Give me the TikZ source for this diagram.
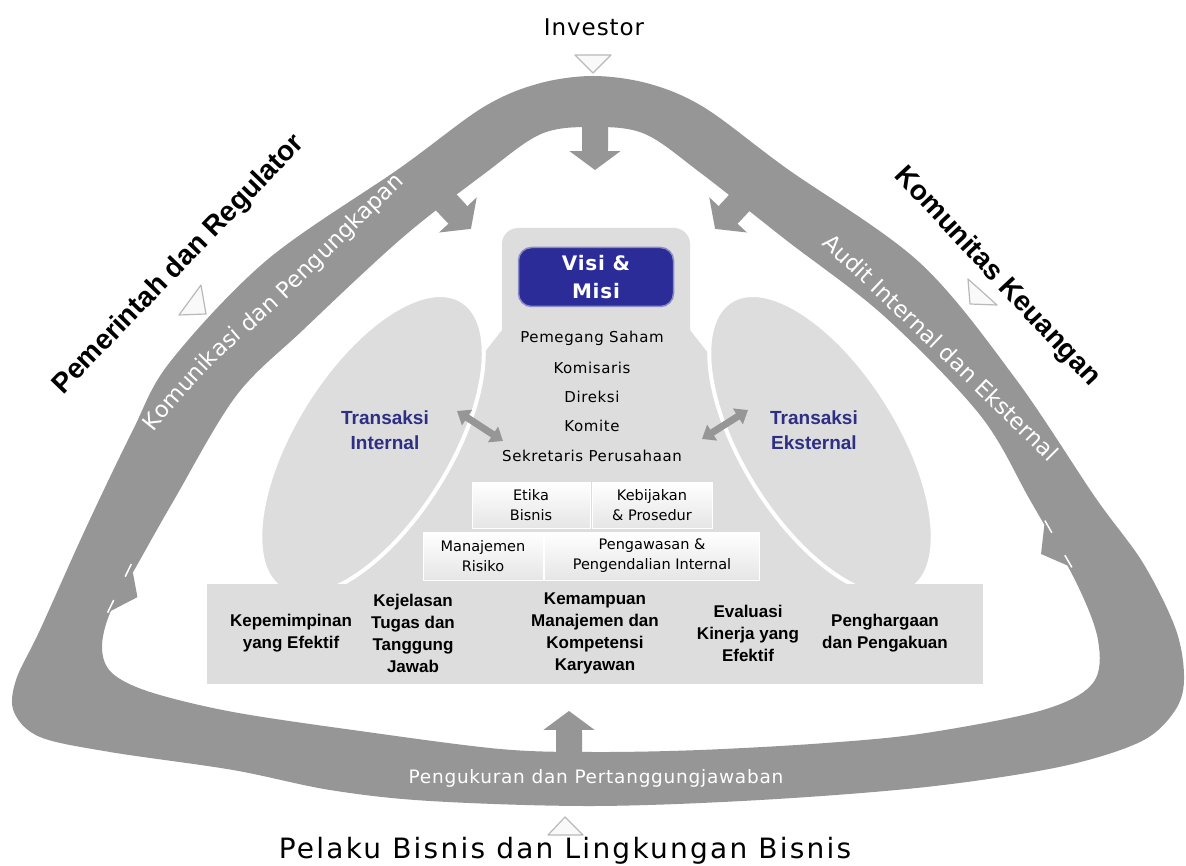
\documentclass[tikz,border=0pt]{standalone}
\usepackage{fontspec}
\setmainfont{DejaVu Sans}
\newfontfamily\arial{Liberation Sans}
\newfontfamily\wide{DejaVu Sans}[LetterSpace=8]
\newfontfamily\ringtext{DejaVu Sans}[LetterSpace=4]
\newfontfamily\listtext{DejaVu Sans}[LetterSpace=4]
\usetikzlibrary{positioning,arrows.meta,calc,decorations.text}

\definecolor{ringgray}{RGB}{150,150,150}
\definecolor{panel}{RGB}{221,221,221}
\definecolor{visiblue}{RGB}{44,44,152}
\definecolor{navy}{RGB}{46,46,132}

% arrow leaving the ring: base point, direction, length
\newcommand\ringarrow[3]{%
  \begin{scope}[shift={#1}, rotate=#2]
    \fill[ringgray] (0,13) -- (#3-20,13) -- (#3-20,27) -- (#3,0) -- (#3-20,-27) -- (#3-20,-13) -- (0,-13) -- cycle;
    \draw[white, line width=1.5pt] (#3-20,13) -- (#3-20,27);
    \draw[white, line width=1.5pt] (#3-20,-13) -- (#3-20,-27);
  \end{scope}}

\begin{document}
\begin{tikzpicture}[x=1pt,y=-1pt,
  txt/.style={inner sep=0pt, align=center},
  party/.style={txt, font=\arial\bfseries\fontsize{28}{32}\selectfont},
  bandtext/.style={decorate, decoration={text along path, text align=center,
    text={|\fontsize{22.5}{26}\selectfont\color{white}|#1}}},
  item/.style={txt, font=\listtext\fontsize{15}{18}\selectfont},
  pillar/.style={txt, font=\arial\bfseries\fontsize{17}{22}\selectfont},
  trans/.style={txt, text=navy, font=\arial\bfseries\fontsize{19}{25}\selectfont},
  cell/.style={draw=white, line width=1pt, top color=white, bottom color=panel!75, inner sep=0pt,
    align=center, font=\fontsize{14.5}{20}\selectfont, minimum height=46pt},
  visibox/.style={fill=visiblue, draw=visiblue!55!white, line width=1.5pt, rounded corners=13pt,
    minimum width=155pt, minimum height=59pt, text=white, align=center, inner sep=0pt,
    font=\listtext\bfseries\fontsize{20}{28}\selectfont},
  ell/.style={fill=panel, draw=white, line width=4pt},
  marker/.style={fill=gray!5, draw=gray!55, line width=1.2pt, line join=round},
  dbl/.style={draw=ringgray, line width=7pt, {Triangle[width=18pt,length=12pt]}-{Triangle[width=18pt,length=12pt]}},
]
\fill[white] (0,0) rectangle (1186,866);
\useasboundingbox (0,0) rectangle (1186,866);

\fill[ringgray, even odd rule]
  plot[smooth cycle, tension=0.55] coordinates {(593,76) (650,84) (705,108) (786,168) (919,262) (1015,378)
    (1095,497) (1143,563) (1176,630) (1184,680) (1174,712) (1140,742) (1059,767) (926,787) (760,800)
    (593,806) (430,801) (330,790) (233,770) (110,752) (40,737) (14,712) (16,680) (40,630) (85,530)
    (132,432) (170,362) (267,260) (400,168) (482,108) (537,84)}
  plot[smooth cycle, tension=0.55] coordinates {(593,127) (645,134) (702,174) (786,240) (884,316)
    (980,415) (1030,500) (1076,582) (1098,640) (1093,683) (1043,710) (926,733) (826,743) (700,750)
    (593,752) (500,749) (360,731) (233,712) (150,692) (112,673) (102,648) (110,613) (136,567)
    (174,500) (236,396) (303,330) (402,238) (484,174) (541,134)};

\ringarrow{(595,105)}{-90}{65}
\ringarrow{(569,778)}{90}{67}
\ringarrow{(430,185)}{-47}{60}
\ringarrow{(756,185)}{-133}{60}
\ringarrow{(88,573)}{-26}{55}
\ringarrow{(1093,524)}{-150}{60}

\filldraw[marker] (575,55) -- (611,55) -- (593,73) -- cycle;
\filldraw[marker] (201,285) -- (206,314) -- (179,315) -- cycle;
\filldraw[marker] (968,279) -- (970,304) -- (997,305) -- cycle;
\filldraw[marker] (548,835) -- (583,835) -- (565,817) -- cycle;

\fill[panel, rounded corners=16pt] (502,228) rectangle (690,600);
\fill[panel] (502,330) -- (502,590) -- (300,590) -- cycle;
\fill[panel] (690,330) -- (690,590) -- (893,590) -- cycle;
\filldraw[ell, rotate around={58:(372,445)}] (372,445) ellipse [x radius=170, y radius=78];
\filldraw[ell, rotate around={-58:(821,445)}] (821,445) ellipse [x radius=170, y radius=78];
\fill[panel] (207,584) rectangle (983,684);

\node[txt, font=\ringtext\fontsize{23}{26}\selectfont] (investor) at (594,27) {Investor};
\node[txt, font=\wide\fontsize{28}{32}\selectfont] (pelaku) at (565,851) {Pelaku Bisnis dan Lingkungan Bisnis};
\node[party, rotate=46] (pemerintah) at (179,265) {Pemerintah dan Regulator};
\node[party, rotate=-47] (komunitas) at (997,277) {Komunitas Keuangan};

\path[bandtext={Komunikasi dan Pengungkapan}]
  plot[smooth] coordinates {(128,475) (157,428) (218,360) (283,302) (408,180) (445,153)};
\path[bandtext={Audit Internal dan Eksternal}]
  plot[smooth] coordinates {(760,196) (817,241) (936,353) (1056,470) (1100,522)};
\node[txt, text=white, font=\ringtext\fontsize{18.5}{20}\selectfont] (pengukuran) at (596,778) {Pengukuran dan Pertanggungjawaban};

\node[visibox] (visi) at (596,277) {Visi \&\\Misi};
\node[item] (saham) at (592,338) {Pemegang Saham};
\node[item] (komisaris) at (592,368) {Komisaris};
\node[item] (direksi) at (592,397) {Direksi};
\node[item] (komite) at (592,426) {Komite};
\node[item] (sekretaris) at (592,456) {Sekretaris Perusahaan};

\node[trans] (tint) at (385,430) {Transaksi\\Internal};
\node[trans] (teks) at (814,430) {Transaksi\\Eksternal};
\coordinate (ia) at (457,411);
\coordinate (ib) at (503,441);
\coordinate (ea) at (702,439);
\coordinate (eb) at (748,410);
\draw[dbl] (ia) -- (ib);
\draw[dbl] (ea) -- (eb);

\node[cell, minimum width=118pt] (etika) at (531,505) {Etika\\Bisnis};
\node[cell, minimum width=120pt] (kebijakan) at (652,505) {Kebijakan\\\& Prosedur};
\node[cell, minimum width=120pt, minimum height=48pt] (risiko) at (483,556) {Manajemen\\Risiko};
\node[cell, minimum width=215pt, minimum height=48pt] (pengawasan) at (652,556) {Pengawasan \&\\Pengendalian Internal};

\node[pillar] (pimpin) at (291,633) {Kepemimpinan\\yang Efektif};
\node[pillar] (tugas) at (413,633) {Kejelasan\\Tugas dan\\Tanggung\\Jawab};
\node[pillar] (mampu) at (595,633) {Kemampuan\\Manajemen dan\\Kompetensi\\Karyawan};
\node[pillar] (evaluasi) at (748,633) {Evaluasi\\Kinerja yang\\Efektif};
\node[pillar] (harga) at (885,633) {Penghargaan\\dan Pengakuan};
\end{tikzpicture}
\end{document}
